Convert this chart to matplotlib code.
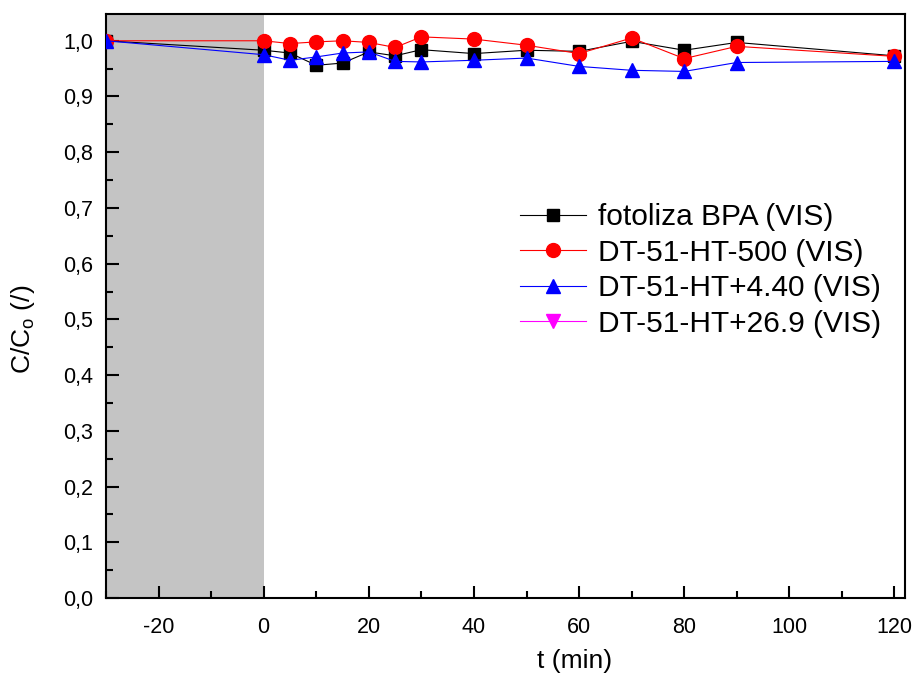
import matplotlib
matplotlib.use("Agg")
import matplotlib.pyplot as plt
from matplotlib.ticker import MultipleLocator, FuncFormatter

plt.rcParams['font.family'] = ['Liberation Sans', 'DejaVu Sans']
plt.rcParams['mathtext.fontset'] = 'custom'
plt.rcParams['mathtext.rm'] = 'Liberation Sans'
plt.rcParams['mathtext.it'] = 'Liberation Sans:italic'
plt.rcParams['axes.unicode_minus'] = False

t = [-30, 0, 5, 10, 15, 20, 25, 30, 40, 50, 60, 70, 80, 90, 120]
fotoliza = [1.000, 0.983, 0.978, 0.956, 0.960, 0.980, 0.973, 0.984, 0.977, 0.983, 0.981, 0.999, 0.983, 0.997, 0.973]
ht500 = [1.000, 1.000, 0.995, 0.998, 1.000, 0.997, 0.988, 1.007, 1.003, 0.992, 0.977, 1.005, 0.968, 0.990, 0.972]
ht440 = [1.000, 0.975, 0.965, 0.971, 0.978, 0.980, 0.963, 0.962, 0.965, 0.969, 0.954, 0.947, 0.945, 0.961, 0.963]
ht269 = []

labels = ['fotoliza BPA (VIS)', 'DT-51-HT-500 (VIS)', 'DT-51-HT+4.40 (VIS)', 'DT-51-HT+26.9 (VIS)']

fig = plt.figure(figsize=(9.16, 6.84), dpi=100)
ax = fig.add_axes([0.1157, 0.1257, 0.8723, 0.8538])

ax.axvspan(-30, 0, color='#c4c4c4', zorder=0, lw=0)

ax.plot(t, fotoliza, color='black', lw=0.8, marker='s', ms=8.5, mec='black', mfc='black', label=labels[0], zorder=3)
ax.plot(t, ht500, color='red', lw=0.8, marker='o', ms=10, mec='red', mfc='red', label=labels[1], zorder=4)
ax.plot(t, ht440, color='blue', lw=0.8, marker='^', ms=10, mec='blue', mfc='blue', label=labels[2], zorder=5)
ax.plot(ht269, ht269, color='magenta', lw=0.8, marker='v', ms=10, mec='magenta', mfc='magenta', label=labels[3])

ax.set_xlim(-30, 122)
ax.set_ylim(0, 1.048)
ax.xaxis.set_major_locator(MultipleLocator(20))
ax.xaxis.set_minor_locator(MultipleLocator(10))
ax.yaxis.set_major_locator(MultipleLocator(0.1))
ax.yaxis.set_minor_locator(MultipleLocator(0.05))
ax.yaxis.set_major_formatter(FuncFormatter(lambda v, p: f"{v:.1f}".replace('.', ',')))

ax.tick_params(which='both', direction='in', top=False, right=False, labelsize=15.5, width=1.5)
ax.tick_params(axis='x', which='major', length=9, pad=14)
ax.tick_params(axis='y', which='major', length=9, pad=9)
ax.tick_params(which='minor', length=5)
for s in ax.spines.values():
    s.set_linewidth(1.5)

ax.set_xlabel('t (min)', fontsize=19)
ax.set_ylabel(r'C/C$_\mathrm{o}$ (/)', fontsize=19)
ax.xaxis.set_label_coords(0.586, -0.087)
ax.yaxis.set_label_coords(-0.086, 0.46)

leg = ax.legend(loc='upper left', bbox_to_anchor=(0.518, 0.676), frameon=False, fontsize=21.5,
                handlelength=2.2, handletextpad=0.4, labelspacing=0.25, borderpad=0,
                borderaxespad=0)

fig.savefig('out.png', dpi=100)
